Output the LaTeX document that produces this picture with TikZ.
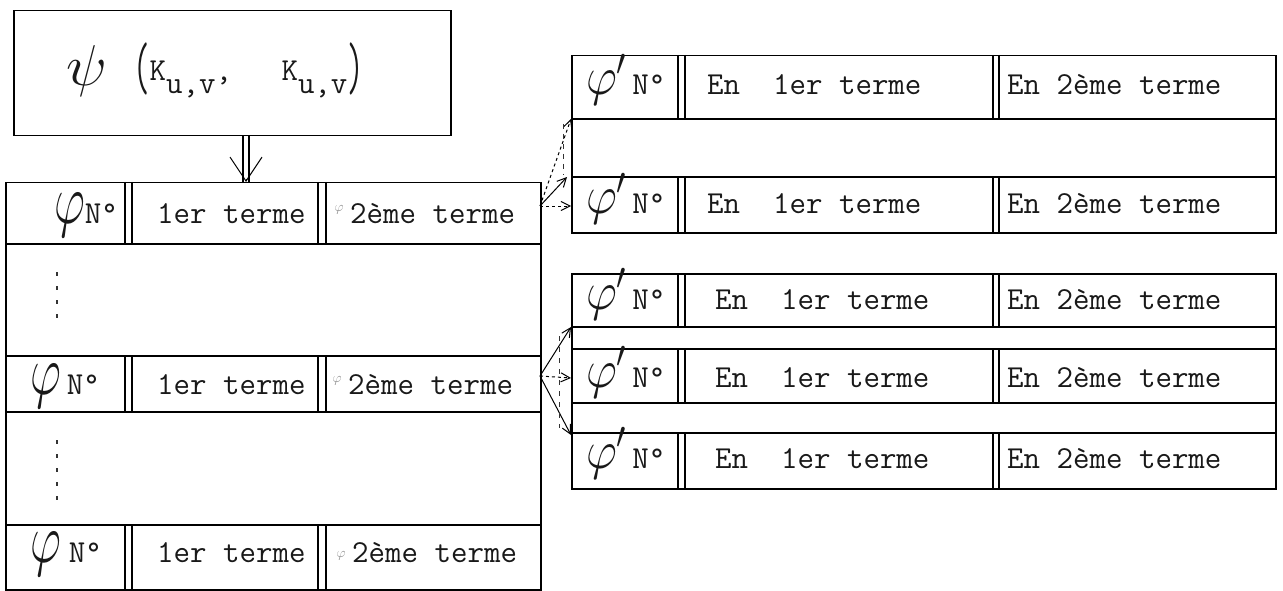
\RequirePackage{fix-cm}
\documentclass[tikz,border=0pt]{standalone}
\usepackage{fontspec}
\usetikzlibrary{arrows.meta}
\tikzset{
  box/.style={draw=black, line width=1.5pt, inner sep=0pt, anchor=north west},
  rule/.style={draw=black, line width=1.1pt},
  cell/.style={font=\ttfamily\fontsize{32}{34}\selectfont\addfontfeatures{FakeBold=2},
    text=black!90, inner sep=0pt, text height=20pt, text depth=0pt},
  stray/.style={font=\fontsize{14}{14}\selectfont, text=black!45, inner sep=0pt},
  dots/.style={draw=black!80, line width=1.6pt, dash pattern=on 4pt off 10pt},
  fan/.style={draw=black, line width=1pt, -{Straight Barb[length=9pt,width=9pt]}},
  shaft/.style={draw=black, line width=1.1pt},
  dblhead/.style={draw=black, line width=1pt, -{Straight Barb[length=24pt,width=32pt]}},
}
\newcommand{\phiL}{\scalebox{1.5}[2.2]{$\varphi$}}
\newcommand{\phiR}{\scalebox{1.5}[1.7]{$\varphi'$}}
\newcommand{\low}[1]{\raisebox{-13pt}{#1}}
\newcommand{\tall}[1]{\raisebox{-9pt}{\scalebox{1}[2.1]{#1}}}
\newcommand{\Bars}[3]{%
  \foreach \x in {#1} \draw[rule] (\x,#2) -- (\x,#3);
}
\newcommand{\RRow}[3]{%
  \node[cell, anchor=west] (#1n) at (586,#2) {\phiR\,N°};
  \node[cell, anchor=west] (#1a) at (#3,#2) {En~~1er terme};
  \node[cell, anchor=west] (#1b) at (1007,#2) {En 2ème terme};
}

\begin{document}
\begin{tikzpicture}[x=1pt, y=-1pt]
  \fill[white] (0,0) rectangle (1283,591);

  % source box
  \node[box, minimum width=437pt, minimum height=125pt] (psibox) at (13,10) {};
  \node[cell] (psisym) at (87,76) {\scalebox{1.9}[1.8]{$\psi$}};
  \node[cell, anchor=west] (psiarg) at (133,71) {\tall{(}K\low{u,v},~~~K\low{u,v}\tall{)}};

  % left table
  \node[box, minimum width=535pt, minimum height=407pt] (lbox) at (5,182) {};
  \foreach \y in {244,356,412,525} \draw[rule] (5,\y) -- (540,\y);
  \foreach \t/\b in {182/244,356/412,525/589} {
    \Bars{125,132,318,326}{\t}{\b}
  }
  \node[cell, anchor=east] (L1n) at (118,213) {\phiL N°};
  \node[cell, anchor=west] (L1a) at (157,213) {1er terme};
  \node[stray] (L1m) at (339,210) {$\varphi$};
  \node[cell, anchor=west] (L1b) at (350,213) {2ème terme};
  \node[cell, anchor=west] (L2n) at (30,384) {\phiL\hspace{6pt}N°};
  \node[cell, anchor=west] (L2a) at (157,384) {1er terme};
  \node[stray] (L2m) at (337,381) {$\varphi$};
  \node[cell, anchor=west] (L2b) at (348,384) {2ème terme};
  \node[cell, anchor=west] (L3n) at (30,552) {\phiL\hspace{8pt}N°};
  \node[cell, anchor=west] (L3a) at (157,552) {1er terme};
  \node[stray] (L3m) at (341,556) {$\varphi$};
  \node[cell, anchor=west] (L3b) at (352,552) {2ème terme};
  \coordinate (dotA1) at (57,272);
  \coordinate (dotA2) at (57,327);
  \coordinate (dotB1) at (57,440);
  \coordinate (dotB2) at (57,502);
  \draw[dots] (dotA1) -- (dotA2);
  \draw[dots] (dotB1) -- (dotB2);

  % double arrow
  \coordinate (dblx) at (246,0);
  \coordinate (dbltip) at (lbox.north -| dblx);
  \coordinate (dblpre) at ([yshift=3pt]dbltip);
  \coordinate (dblL1) at ([xshift=-3pt]psibox.south -| dblx);
  \coordinate (dblL2) at ([xshift=-3pt]dbltip);
  \coordinate (dblR1) at ([xshift=3pt]psibox.south -| dblx);
  \coordinate (dblR2) at ([xshift=3pt]dbltip);
  \draw[shaft] (dblL1) -- (dblL2);
  \draw[shaft] (dblR1) -- (dblR2);
  \draw[dblhead] (dblpre) -- (dbltip);

  % right tables
  \node[box, minimum width=704pt, minimum height=177pt] (rboxA) at (571,55) {};
  \foreach \y in {119,177} \draw[rule] (571,\y) -- (1275,\y);
  \foreach \t/\b in {55/119,177/232} {
    \Bars{678,685,993,999}{\t}{\b}
  }
  \RRow{RA1}{85}{707}
  \RRow{RA2}{204}{707}

  \node[box, minimum width=704pt, minimum height=215pt] (rboxB) at (571,273) {};
  \foreach \y in {327,349,403,433} \draw[rule] (571,\y) -- (1275,\y);
  \foreach \t/\b in {273/327,349/403,433/488} {
    \Bars{678,685,993,999}{\t}{\b}
  }
  \RRow{RB1}{299}{715}
  \RRow{RB2}{377}{715}
  \RRow{RB3}{458}{715}

  % fans
  \coordinate (fanA) at (540,206);
  \coordinate (RA1c) at (571,119);
  \coordinate (RA2c) at (567,177);
  \coordinate (RA3c) at (571,206);
  \coordinate (RAd1) at (563,124);
  \coordinate (RAd2) at (563,175);
  \draw[fan, dashed] (fanA) -- (RA1c);
  \draw[fan] (fanA) -- (RA2c);
  \draw[fan, dashed] (fanA) -- (RA3c);
  \draw[dots, line width=1pt, dash pattern=on 5pt off 5pt] (RAd1) -- (RAd2);

  \coordinate (fanB) at (540,376);
  \coordinate (RB1c) at (571,327);
  \coordinate (RB2c) at (571,378);
  \coordinate (RB3c) at (571,435);
  \coordinate (RBd1) at (559,336);
  \coordinate (RBd2) at (559,428);
  \draw[fan] (fanB) -- (RB1c);
  \draw[fan, dashed] (fanB) -- (RB2c);
  \draw[fan] (fanB) -- (RB3c);
  \draw[dots, line width=1pt, dash pattern=on 5pt off 6pt] (RBd1) -- (RBd2);
\end{tikzpicture}
\end{document}
